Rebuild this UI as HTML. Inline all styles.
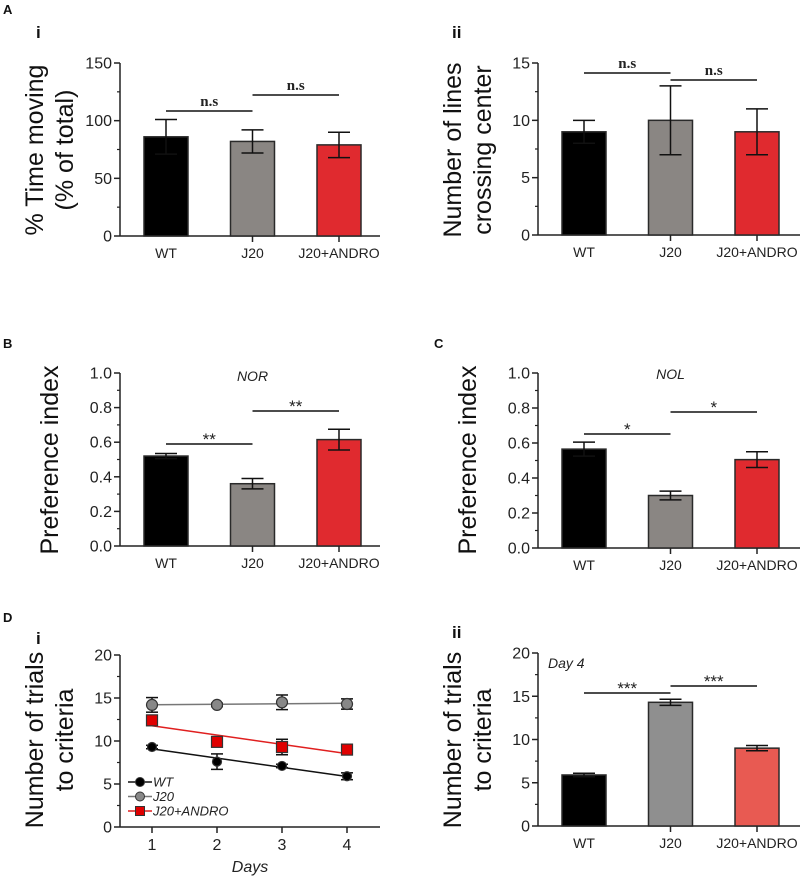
<!DOCTYPE html>
<html><head><meta charset="utf-8">
<style>
html,body{margin:0;padding:0;background:#fff;}
svg{display:block;font-family:"Liberation Sans",sans-serif;}
</style></head>
<body>
<svg id="fig" width="800" height="878" viewBox="0 0 800 878" xmlns="http://www.w3.org/2000/svg">
<g font-weight="bold" fill="#111">
<text x="3" y="14" font-size="13">A</text>
<text x="36" y="38" font-size="17">i</text>
<text x="452" y="38" font-size="17">ii</text>
<text x="3" y="348" font-size="13">B</text>
<text x="434" y="348" font-size="13">C</text>
<text x="3" y="622" font-size="13">D</text>
<text x="36" y="644" font-size="17">i</text>
<text x="452" y="638" font-size="17">ii</text>
</g>
</svg>
<script>
// ---- data ----
const groups = ["WT", "J20", "J20+ANDRO"];
const aiValues = [86, 82, 79];
const aiErrors = [15, 10, 11];
const aiTicks = ["0", "50", "100", "150"];
const aiiValues = [9, 10, 9];
const aiiErrors = [1, 3, 2];
const aiiTicks = ["0", "5", "10", "15"];
const bValues = [0.52, 0.36, 0.615];
const bErrors = [0.015, 0.03, 0.06];
const cValues = [0.565, 0.30, 0.505];
const cErrors = [0.04, 0.025, 0.045];
const pTicks = ["0.0", "0.2", "0.4", "0.6", "0.8", "1.0"];
const days = [1, 2, 3, 4];
const wtDays = [9.3, 7.6, 7.1, 5.9];
const wtDaysErr = [0.2, 0.9, 0.2, 0.4];
const j20Days = [14.2, 14.2, 14.5, 14.3];
const j20DaysErr = [0.85, 0.2, 0.85, 0.6];
const androDays = [12.4, 9.9, 9.3, 9.0];
const androDaysErr = [0.3, 0.2, 0.9, 0.4];
const dTicks = ["0", "5", "10", "15", "20"];
const diiValues = [5.9, 14.3, 9.0];
const diiErrors = [0.2, 0.35, 0.3];

const NS = "http://www.w3.org/2000/svg";
const svg = document.getElementById("fig");
function mk(tag, attrs, parent) {
  const e = document.createElementNS(NS, tag);
  for (const k in attrs) e.setAttribute(k, attrs[k]);
  (parent || svg).appendChild(e);
  return e;
}
function txt(s, attrs, parent) { const t = mk("text", attrs, parent); t.textContent = s; return t; }

function yAxis(g, ax, y0, y1, ticks, max, name) {
  const ys = v => y0 - (v / max) * (y0 - y1);
  const ax1 = mk("line", {x1: ax, y1: y1, x2: ax, y2: y0, stroke: "#222", "stroke-width": 1.5}, g);
  
  
  ticks.forEach((t, i) => {
    const v = parseFloat(t);
    const y = ys(v);
    mk("line", {x1: ax - 6, y1: y, x2: ax, y2: y, stroke: "#222", "stroke-width": 1.5}, g);
    if (i < ticks.length - 1) {
      const vn = (v + parseFloat(ticks[i + 1])) / 2;
      mk("line", {x1: ax - 3, y1: ys(vn), x2: ax, y2: ys(vn), stroke: "#222", "stroke-width": 1.2}, g);
    }
    const tl = txt(t, {x: ax - 8, y: y + 5.5, "font-size": 16, "text-anchor": "end", fill: "#222"}, g);
    
    
  });
  return ys;
}
function ytitle(g, lines, cx, cy) {
  lines.forEach((l, i) => {
    const x = cx + i * 30 - (lines.length - 1) * 15;
    const t = txt(l, {x: x, y: cy, "font-size": 25, "text-anchor": "middle", fill: "#111", transform: `rotate(-90 ${x} ${cy})`, "dominant-baseline": "central"}, g);
    
    
  });
}
function sig(g, x1, x2, y, label, serif) {
  mk("line", {x1: x1, y1: y, x2: x2, y2: y, stroke: "#111", "stroke-width": 1.5}, g);
  const t = txt(label, {x: (x1 + x2) / 2, y: serif ? y - 5 : y + 1, "font-size": serif ? 15 : 17, "text-anchor": "middle", fill: "#222",
    "font-family": serif ? "Liberation Serif, serif" : "Liberation Sans, sans-serif", "font-weight": serif ? "bold" : "normal"}, g);
  
  
}

function barChart(name, ax, y0, y1, xEnd, ticks, max, vals, errs, colors, showLower) {
  const g = mk("g", {});
  
  
  const ys = yAxis(g, ax, y0, y1, ticks, max, name);
  const xl = mk("line", {x1: ax, y1: y0, x2: xEnd, y2: y0, stroke: "#222", "stroke-width": 1.5}, g);
  
  
  const cx = i => ax + 46 + i * 86.5;
  vals.forEach((v, i) => {
    const x = cx(i), y = ys(v);
    const r = mk("rect", {x: x - 22, y: y, width: 44, height: y0 - y, fill: colors[i], stroke: "#2a2a2a", "stroke-width": 1.5}, g);
    
    
    const yt = ys(v + errs[i]), yb = ys(v - errs[i]);
    mk("line", {x1: x, y1: yt, x2: x, y2: showLower ? yb : y, stroke: "#111", "stroke-width": 1.5}, g);
    mk("line", {x1: x - 11, y1: yt, x2: x + 11, y2: yt, stroke: "#111", "stroke-width": 1.5}, g);
    if (showLower) mk("line", {x1: x - 11, y1: yb, x2: x + 11, y2: yb, stroke: "#111", "stroke-width": 1.5}, g);
    if (i > 0) mk("line", {x1: x, y1: y0, x2: x, y2: y0 + 6, stroke: "#222", "stroke-width": 1.5}, g);
    const tl = txt(groups[i], {x: x, y: y0 + 22, "font-size": 14, "text-anchor": "middle", fill: "#222"}, g);
    
    
  });
  return {g: g, cx: cx, ys: ys};
}
const cols = ["#000000", "#8a8683", "#e02a2f"];

// Panel A i
let p = barChart("chart-a-i", 120, 236, 63, 380, aiTicks, 150, aiValues, aiErrors, cols, true);
ytitle(p.g, ["% Time moving", "(% of total)"], 50, 150);
sig(p.g, p.cx(0), p.cx(1), 111, "n.s", true);
sig(p.g, p.cx(1), p.cx(2), 95, "n.s", true);

// Panel A ii
p = barChart("chart-a-ii", 538, 235, 63, 800, aiiTicks, 15, aiiValues, aiiErrors, cols, true);
ytitle(p.g, ["Number of lines", "crossing center"], 468, 150);
sig(p.g, p.cx(0), p.cx(1), 73, "n.s", true);
sig(p.g, p.cx(1), p.cx(2), 80, "n.s", true);

// Panel B
p = barChart("chart-b-nor", 120, 546, 373, 380, pTicks, 1, bValues, bErrors, cols, true);
ytitle(p.g, ["Preference index"], 50, 460);
sig(p.g, p.cx(0), p.cx(1), 444, "**", false);
sig(p.g, p.cx(1), p.cx(2), 411, "**", false);
txt("NOR", {x: p.cx(1), y: 381, "font-size": 14, "font-style": "italic", "text-anchor": "middle", fill: "#222"}, p.g);

// Panel C
p = barChart("chart-c-nol", 538, 548, 373, 800, pTicks, 1, cValues, cErrors, cols, true);
ytitle(p.g, ["Preference index"], 468, 460);
sig(p.g, p.cx(0), p.cx(1), 434, "*", false);
sig(p.g, p.cx(1), p.cx(2), 412, "*", false);
txt("NOL", {x: p.cx(1), y: 379, "font-size": 14, "font-style": "italic", "text-anchor": "middle", fill: "#222"}, p.g);

// Panel D ii
p = barChart("chart-d-ii", 538, 826, 653, 800, dTicks, 20, diiValues, diiErrors, ["#000000", "#8f8f8f", "#e85a52"], true);
ytitle(p.g, ["Number of trials", "to criteria"], 468, 740);
sig(p.g, p.cx(0), p.cx(1), 693, "***", false);
sig(p.g, p.cx(1), p.cx(2), 686, "***", false);
txt("Day 4", {x: 548, y: 668, "font-size": 14, "font-style": "italic", fill: "#222"}, p.g);

// Panel D i line chart
(function () {
  const g = mk("g", {});
  
  
  const ax = 120, y0 = 827, y1 = 655;
  const ys = yAxis(g, ax, y0, y1, dTicks, 20, "chart-d-i");
  const xs = d => 152 + (d - 1) * 65;
  mk("line", {x1: ax, y1: y0, x2: 380, y2: y0, stroke: "#222", "stroke-width": 1.5}, g);
  days.forEach(d => {
    mk("line", {x1: xs(d), y1: y0, x2: xs(d), y2: y0 + 6, stroke: "#222", "stroke-width": 1.5}, g);
    const t = txt(String(d), {x: xs(d), y: y0 + 23, "font-size": 16, "text-anchor": "middle", fill: "#222"}, g);
    
    
  });
  const xt = txt("Days", {x: 250, y: 872, "font-size": 16, "font-style": "italic", "text-anchor": "middle", fill: "#222"}, g);
  
  
  ytitle(g, ["Number of trials", "to criteria"], 50, 740);
  function fit(vals) {
    const n = days.length, mx = days.reduce((a, b) => a + b) / n, my = vals.reduce((a, b) => a + b) / n;
    let sxy = 0, sxx = 0;
    days.forEach((d, i) => { sxy += (d - mx) * (vals[i] - my); sxx += (d - mx) * (d - mx); });
    const b = sxy / sxx; return [my - b * mx, b];
  }
  const series = [
    {name: "wt", vals: wtDays, errs: wtDaysErr, line: "#111", fill: "#000", shape: "circle", r: 4.5},
    {name: "j20", vals: j20Days, errs: j20DaysErr, line: "#777", fill: "#888", shape: "circle", r: 5.5},
    {name: "j20-andro", vals: androDays, errs: androDaysErr, line: "#e01f1f", fill: "#e00000", shape: "square", r: 5.5}
  ];
  series.forEach(s => {
    const [a, b] = fit(s.vals);
    const fl = mk("line", {x1: xs(1), y1: ys(a + b), x2: xs(4), y2: ys(a + 4 * b), stroke: s.line, "stroke-width": 1.5}, g);
    
    
    s.vals.forEach((v, i) => {
      const x = xs(days[i]), yt = ys(v + s.errs[i]), yb = ys(v - s.errs[i]);
      mk("line", {x1: x, y1: yt, x2: x, y2: yb, stroke: "#111", "stroke-width": 1.5}, g);
      mk("line", {x1: x - 6, y1: yt, x2: x + 6, y2: yt, stroke: "#111", "stroke-width": 1.5}, g);
      mk("line", {x1: x - 6, y1: yb, x2: x + 6, y2: yb, stroke: "#111", "stroke-width": 1.5}, g);
      let m;
      if (s.shape === "circle") m = mk("circle", {cx: x, cy: ys(v), r: s.r, fill: s.fill, stroke: "#333", "stroke-width": 1.2}, g);
      else m = mk("rect", {x: x - s.r, y: ys(v) - s.r, width: 2 * s.r, height: 2 * s.r, fill: s.fill, stroke: "#333", "stroke-width": 1.2}, g);
      
      
    });
  });
  const leg = [["WT", "#111", "#000", "circle"], ["J20", "#777", "#888", "circle"], ["J20+ANDRO", "#e01f1f", "#e00000", "square"]];
  leg.forEach((l, i) => {
    const y = 782 + i * 14.5;
    const lg = mk("g", {}, g);
    
    
    mk("line", {x1: 128, y1: y, x2: 152, y2: y, stroke: l[1], "stroke-width": 1.5}, lg);
    if (l[3] === "circle") mk("circle", {cx: 140, cy: y, r: 4.5, fill: l[2], stroke: "#333", "stroke-width": 1}, lg);
    else mk("rect", {x: 135.5, y: y - 4.5, width: 9, height: 9, fill: l[2], stroke: "#333", "stroke-width": 1}, lg);
    txt(l[0], {x: 153, y: y + 4.5, "font-size": 13, "font-style": "italic", fill: "#222"}, lg);
  });
})();
</script>
</body></html>
